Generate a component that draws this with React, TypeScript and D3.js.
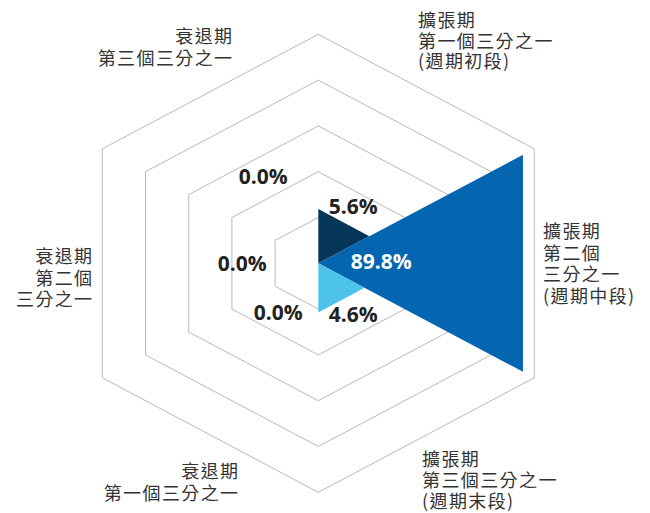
import React from "react";
import * as d3 from "d3";

const categories: string[][] = [
  ["擴張期", "第一個三分之一", "(週期初段)"],
  ["擴張期", "第二個", "三分之一", "(週期中段)"],
  ["擴張期", "第三個三分之一", "(週期末段)"],
  ["衰退期", "第一個三分之一"],
  ["衰退期", "第二個", "三分之一"],
  ["衰退期", "第三個三分之一"],
];
const values: number[] = [5.6, 89.8, 4.6, 0.0, 0.0, 0.0];
const valueLabels: string[] = ["5.6%", "89.8%", "4.6%", "0.0%", "0.0%", "0.0%"];
const gridLevels: number[] = [20, 40, 60, 80, 100];

// layout / style
const W = 650, H = 513;
const CX = 318.3, CY = 263.3;
const R = 229;
const SX = 1.089; // horizontal stretch
const colors = ["#05365a", "#0465b0", "#4dc3ec", "#0465b0", "#0465b0", "#0465b0"];
const labelColors = ["#222", "#fff", "#222", "#222", "#222", "#222"];
const valueLabelPos: [number, number][] = [
  [35, -57], [63, -2], [35, 51], [-40, 49], [-76, 0], [-55, -87],
];
const catLabelLayout: { x: number; y: number; anchor: string; lh: number }[] = [
  { x: 418, y: 27, anchor: "start", lh: 20.5 },
  { x: 543, y: 238, anchor: "start", lh: 21.5 },
  { x: 422, y: 466, anchor: "start", lh: 21 },
  { x: 239.5, y: 478, anchor: "end", lh: 22 },
  { x: 93.5, y: 263, anchor: "end", lh: 21.5 },
  { x: 233.5, y: 43, anchor: "end", lh: 21.5 },
];

const rScale = d3.scaleSqrt().domain([0, 100]).range([0, R]);
const gridScale = d3.scaleLinear().domain([0, 100]).range([0, R]);

function pt(angleDeg: number, r: number): [number, number] {
  const a = (angleDeg * Math.PI) / 180;
  return [CX + r * SX * Math.sin(a), CY - r * Math.cos(a)];
}

export default function App() {
  const line = d3.line<[number, number]>();
  const hexPath = (r: number) => {
    const pts = d3.range(7).map((i) => pt(i * 60, r));
    return line(pts) + "Z";
  };
  return (
    <svg width={W} height={H} style={{ position: "absolute", left: 0, top: 0, background: "#fff" }}>
      {gridLevels.map((g) => (
        <path key={g} d={hexPath(gridScale(g))} fill="none" stroke="#b9b9bd" strokeWidth={1} />
      ))}
      {values.map((v, i) => {
        const r = rScale(v);
        if (r <= 0) return null;
        const pts: [number, number][] = [[CX, CY], pt(i * 60, r), pt((i + 1) * 60, r)];
        return <path key={i} d={line(pts) + "Z"} fill={colors[i]} />;
      })}
      {valueLabels.map((t, i) => (
        <text
          key={i}
          x={CX + valueLabelPos[i][0]}
          y={CY + valueLabelPos[i][1]}
          textAnchor="middle"
          dominantBaseline="central"
          fontFamily="'Open Sans', 'Noto Sans', sans-serif"
          fontWeight={700}
          fontSize={21}
          fill={labelColors[i]}
        >
          {t}
        </text>
      ))}
      {categories.map((lines, i) => {
        const L = catLabelLayout[i];
        return (
          <text
            key={i}
            textAnchor={L.anchor as any}
            fontFamily="'Noto Sans CJK TC', 'Noto Sans', sans-serif"
            fontSize={18}
            letterSpacing={1.4}
            fill="#333"
          >
            {lines.map((s, j) => (
              <tspan key={j} x={L.x} y={L.y + j * L.lh}>
                {s}
              </tspan>
            ))}
          </text>
        );
      })}
    </svg>
  );
}
